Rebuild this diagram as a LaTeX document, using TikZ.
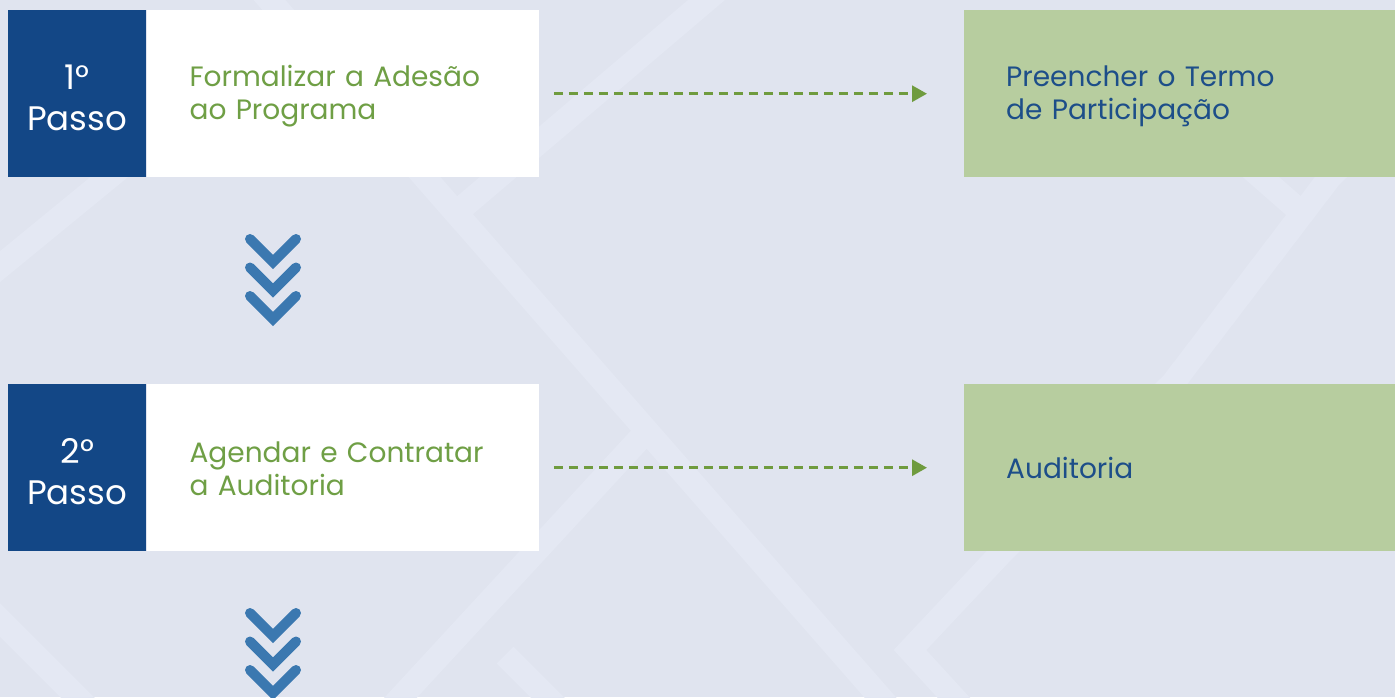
\documentclass[tikz,border=0pt]{standalone}
\usepackage{fontspec}
\setmainfont{Poppins}
\usetikzlibrary{positioning,arrows.meta}

\definecolor{pagebg}{HTML}{E0E4EF}
\definecolor{stripe}{HTML}{E4E8F3}
\definecolor{stepblue}{HTML}{134786}
\definecolor{actgreen}{HTML}{6F9F45}
\definecolor{flowgreen}{HTML}{6F9B3E}
\definecolor{resgreen}{HTML}{B7CD9F}
\definecolor{resblue}{HTML}{1D4E89}
\definecolor{chevblue}{HTML}{3B78B0}

\begin{document}
\begin{tikzpicture}[x=1pt,y=-1pt,
  numbox/.style={fill=stepblue,text=white,anchor=north west,inner sep=0pt,
    minimum width=138pt,minimum height=167pt,align=center,
    font=\fontsize{34}{41}\selectfont},
  actbox/.style={fill=white,text=actgreen,inner xsep=43pt,inner ysep=0pt,
    text width=306pt,minimum height=167pt,align=left,
    font=\fontsize{28}{33}\selectfont},
  resbox/.style={fill=resgreen,text=resblue,anchor=north west,inner xsep=42pt,
    inner ysep=0pt,text width=347pt,minimum height=167pt,align=left,
    font=\fontsize{28}{33}\selectfont},
  flow/.style={flowgreen,line width=3pt,dash pattern=on 9pt off 6pt,
    -{Triangle[length=15pt,width=16pt]},shorten <=15pt,shorten >=37pt},
  chev/.style={chevblue,line width=10pt,line cap=round}]
  \useasboundingbox (0,0) rectangle (1395,697);
  \fill[pagebg] (0,0) rectangle (1395,697);

  % background stripes
  \begin{scope}[stripe,line width=24pt]
    \clip (0,0) rectangle (1395,697);
    \draw (252,-20) -- (900,720);
    \draw (457,212) -- (730,-20);
    \draw (380,720) -- (645,433);
    \draw (505,655) -- (560,710);
    \draw (1420,90) -- (1330,177) -- (1173,383) -- (1003,551) -- (910,650) -- (965,710);
    \draw (1230,150) -- (1310,220);
    \draw (-20,283) -- (130,160);
    \draw (-10,610) -- (90,710);
  \end{scope}

  % row 1
  \node[numbox] (step1) at (8,10) {\rule{0pt}{32pt}1°\\Passo};
  \node[actbox,right=0pt of step1] (act1) {\rule{0pt}{27pt}Formalizar a Adesão\\ao Programa};
  \node[resbox] (res1) at (964,10) {\rule{0pt}{25pt}Preencher o Termo\\de Participação};
  \draw[flow] (act1) -- (res1);

  % row 2
  \node[numbox] (step2) at (8,384) {\rule{0pt}{32pt}2°\\Passo};
  \node[actbox,right=0pt of step2] (act2) {\rule{0pt}{22pt}Agendar e Contratar\\a Auditoria};
  \node[resbox] (res2) at (964,384) {Auditoria};
  \draw[flow] (act2) -- (res2);

  % chevrons
  \foreach \y in {262,290.5,319,636,664.5,693}
    \draw[chev] (250,\y-23) -- (273,\y) -- (296,\y-23);
\end{tikzpicture}
\end{document}
